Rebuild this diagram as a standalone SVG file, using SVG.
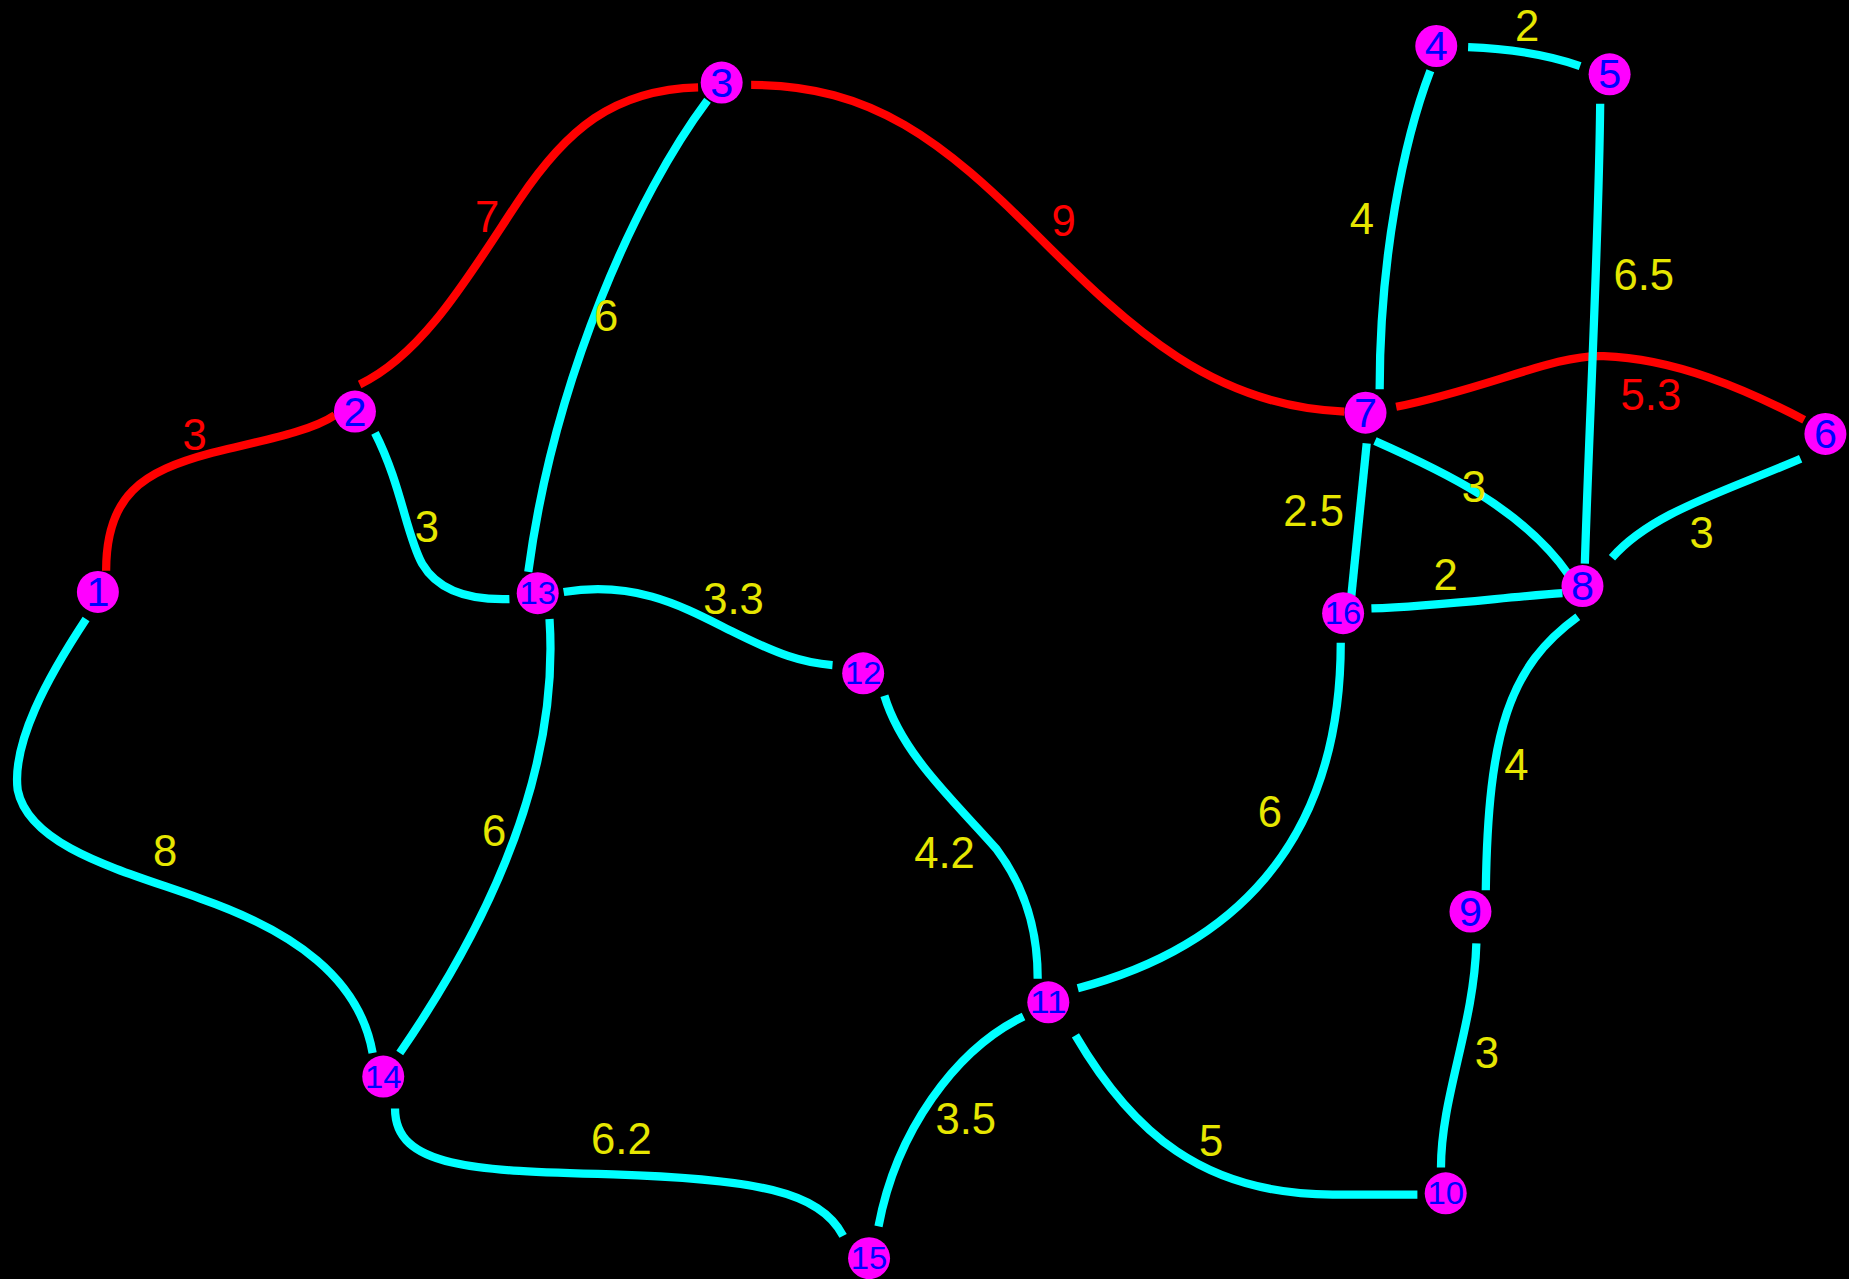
<svg xmlns="http://www.w3.org/2000/svg" width="1849" height="1279" viewBox="0 0 1849 1279">
<style>
.e{fill:none;stroke-width:7;stroke-linecap:butt}
.c{stroke:#00ffff}
.r{stroke:#ff0000}
.n circle{fill:#ff00ff}
.n text{fill:#0000ff;font-family:"Liberation Sans",Arial,sans-serif;font-size:35px;text-anchor:middle;dominant-baseline:central}
.n text.d{font-size:27px}
.l{font-family:"Liberation Sans",Arial,sans-serif;font-size:37px;text-anchor:middle;dominant-baseline:central}
.ly{fill:#e6e600}
.lr{fill:#ff0000}
</style>
<rect width="1849" height="1279" fill="#000"/>
<g transform="scale(1.1792)">
<g id="connectors">
<path class="e r" d="M90,484 C90,420 120,400 180,384 C230,372 265,365 284,352"/>
<path class="e r" d="M305,326 C360,300 400,230 440,170 C480,110 520,76 592,74"/>
<path class="e r" d="M637,72 C740,72 800,120 880,200 C960,280 1030,345 1140,349"/>
<path class="e r" d="M1184,345 C1260,330 1320,300 1360,302 C1420,304 1480,330 1530,356"/>
<path class="e c" d="M1245,40 Q1300,42 1340,56"/>
<path class="e c" d="M1213,60 C1190,120 1170,220 1170,330"/>
<path class="e c" d="M1357,88 C1356,200 1348,350 1344,478"/>
<path class="e c" d="M1159,376 L1146,505"/>
<path class="e c" d="M1166,374 C1220,398 1290,430 1330,487"/>
<path class="e c" d="M1527,389 C1460,418 1400,435 1367,473"/>
<path class="e c" d="M1163,516 C1220,514 1280,506 1325,503"/>
<path class="e c" d="M1338,523 C1280,565 1262,620 1260,755"/>
<path class="e c" d="M1252,800 C1250,870 1222,930 1222,990"/>
<path class="e c" d="M912,878 C960,960 1020,1013 1130,1013 L1202,1013"/>
<path class="e c" d="M914,838 C1040,805 1137,720 1137,545"/>
<path class="e c" d="M750,590 C765,640 810,680 845,720 C875,760 880,800 880,830"/>
<path class="e c" d="M868,862 C810,890 760,960 745,1040"/>
<path class="e c" d="M335,940 C335,990 400,993 520,996 C640,1000 695,1010 715,1048"/>
<path class="e c" d="M339,893 C410,790 475,660 466,525"/>
<path class="e c" d="M73,525 C40,575 10,630 15,670 C25,720 110,740 170,762 C250,790 305,830 316,893"/>
<path class="e c" d="M318,367 C340,410 345,455 358,478 C372,502 400,509 432,508"/>
<path class="e c" d="M600,85 C540,165 470,320 448,485"/>
<path class="e c" d="M478,502 C540,492 580,515 620,535 C660,555 680,562 706,564"/>
<text class="l lr" x="165" y="369">3</text>
<text class="l lr" x="413" y="184">7</text>
<text class="l lr" x="902" y="187">9</text>
<text class="l lr" x="1400" y="335">5.3</text>
<text class="l ly" x="1295" y="22">2</text>
<text class="l ly" x="1155" y="186">4</text>
<text class="l ly" x="1394" y="233">6.5</text>
<text class="l ly" x="1114" y="433">2.5</text>
<text class="l ly" x="1250" y="413">3</text>
<text class="l ly" x="1443" y="452">3</text>
<text class="l ly" x="1226" y="488">2</text>
<text class="l ly" x="1286" y="649">4</text>
<text class="l ly" x="1261" y="893">3</text>
<text class="l ly" x="1027" y="968">5</text>
<text class="l ly" x="1077" y="689">6</text>
<text class="l ly" x="801" y="723">4.2</text>
<text class="l ly" x="819" y="949">3.5</text>
<text class="l ly" x="527" y="966">6.2</text>
<text class="l ly" x="419" y="705">6</text>
<text class="l ly" x="140" y="722">8</text>
<text class="l ly" x="362" y="447">3</text>
<text class="l ly" x="514" y="268">6</text>
<text class="l ly" x="622" y="508">3.3</text>
</g>
<g id="node1" class="n"><circle cx="83" cy="502" r="17.8"/><text x="83" y="502">1</text></g>
<g id="node2" class="n"><circle cx="301" cy="349" r="17.8"/><text x="301" y="349">2</text></g>
<g id="node3" class="n"><circle cx="612" cy="70" r="17.8"/><text x="612" y="70">3</text></g>
<g id="node4" class="n"><circle cx="1218" cy="39" r="17.8"/><text x="1218" y="39">4</text></g>
<g id="node5" class="n"><circle cx="1365" cy="63" r="17.8"/><text x="1365" y="63">5</text></g>
<g id="node6" class="n"><circle cx="1548" cy="368" r="17.8"/><text x="1548" y="368">6</text></g>
<g id="node7" class="n"><circle cx="1158" cy="350" r="17.8"/><text x="1158" y="350">7</text></g>
<g id="node8" class="n"><circle cx="1342" cy="497" r="17.8"/><text x="1342" y="497">8</text></g>
<g id="node9" class="n"><circle cx="1247" cy="773" r="17.8"/><text x="1247" y="773">9</text></g>
<g id="node10" class="n"><circle cx="1226" cy="1012" r="17.8"/><text class="d" x="1226" y="1012" textLength="31" lengthAdjust="spacingAndGlyphs">10</text></g>
<g id="node11" class="n"><circle cx="889" cy="850" r="17.8"/><text class="d" x="889" y="850" textLength="31" lengthAdjust="spacingAndGlyphs">11</text></g>
<g id="node12" class="n"><circle cx="732" cy="571" r="17.8"/><text class="d" x="732" y="571" textLength="31" lengthAdjust="spacingAndGlyphs">12</text></g>
<g id="node13" class="n"><circle cx="456" cy="503" r="17.8"/><text class="d" x="456" y="503" textLength="31" lengthAdjust="spacingAndGlyphs">13</text></g>
<g id="node14" class="n"><circle cx="325" cy="913" r="17.8"/><text class="d" x="325" y="913" textLength="31" lengthAdjust="spacingAndGlyphs">14</text></g>
<g id="node15" class="n"><circle cx="737" cy="1067" r="17.8"/><text class="d" x="737" y="1067" textLength="31" lengthAdjust="spacingAndGlyphs">15</text></g>
<g id="node16" class="n"><circle cx="1139" cy="520" r="17.8"/><text class="d" x="1139" y="520" textLength="31" lengthAdjust="spacingAndGlyphs">16</text></g>
</g>
</svg>
